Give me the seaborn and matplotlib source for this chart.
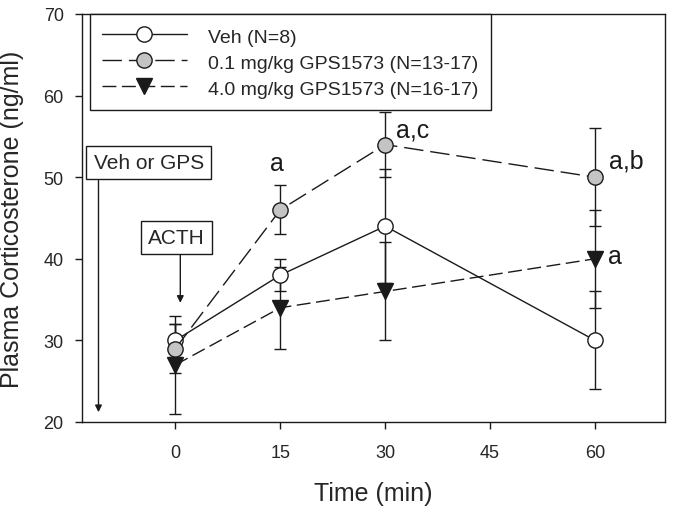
import pandas as pd
import matplotlib
matplotlib.use("Agg")
import matplotlib.pyplot as plt
from matplotlib.lines import Line2D
import seaborn as sns

# values
time_min = [0, 15, 30, 60]
veh_mean = [30, 38, 44, 30]
veh_err = [2, 2, 7, 6]
low_mean = [29, 46, 54, 50]
low_err = [3, 3, 4, 6]
high_mean = [27, 34, 36, 40]
high_err = [6, 5, 6, 6]

labels = ["Veh (N=8)", "0.1 mg/kg GPS1573 (N=13-17)", "4.0 mg/kg GPS1573 (N=16-17)"]
x_ticks = [0, 15, 30, 45, 60]
y_ticks = [20, 30, 40, 50, 60, 70]

# significance letters: (text, x, y, ha)
sig_marks = [("a", 14.5, 51.8, "center"),
             ("a,c", 31.6, 55.9, "left"),
             ("a,b", 62.0, 52.0, "left"),
             ("a", 61.8, 40.4, "left")]

sns.set_style("ticks")
plt.rcParams["font.family"] = ["Liberation Sans", "DejaVu Sans"]

INK = "#1a1a1a"
GRAY = "#c4c4c4"

series = [
    (veh_mean, veh_err, "o", "white", "-"),
    (low_mean, low_err, "o", GRAY, (0, (14, 5))),
    (high_mean, high_err, "v", INK, (0, (10, 4))),
]

fig = plt.figure(figsize=(6.73, 5.10), dpi=100)
ax = fig.add_axes([0.1214, 0.1706, 0.8666, 0.80])

handles = []
for (mean, err, mk, fc, ls), lab in zip(series, labels):
    df = pd.DataFrame({"time": time_min, "value": mean})
    ax.errorbar(df["time"], df["value"], yerr=err, fmt="none", ecolor=INK,
                elinewidth=1.0, capsize=4.5, capthick=1.0, zorder=2)
    sns.lineplot(data=df, x="time", y="value", ax=ax, color=INK, linestyle=ls,
                 linewidth=1.0, marker=mk, markersize=11,
                 markerfacecolor=fc, markeredgecolor=INK, markeredgewidth=1.0,
                 zorder=3)
    handles.append(Line2D([0], [0], color=INK, linestyle=ls, linewidth=1.0,
                          marker=mk, markersize=11, markerfacecolor=fc,
                          markeredgecolor=INK, markeredgewidth=1.0))

ax.set_xlim(-13.4, 70)
ax.set_ylim(20, 70)
ax.set_xticks(x_ticks)
ax.set_yticks(y_ticks)
ax.tick_params(labelsize=13, length=5, width=1.0, color=INK, direction="out")
ax.tick_params(axis="x", pad=11)
ax.tick_params(axis="y", pad=8)
ax.set_xlabel("Time (min)", fontsize=18, labelpad=14)
ax.set_ylabel("Plasma Corticosterone (ng/ml)", fontsize=18, labelpad=14)
for sp in ax.spines.values():
    sp.set_visible(True)
    sp.set_linewidth(1.0)
    sp.set_color(INK)

leg = ax.legend(handles, labels, loc="upper left", bbox_to_anchor=(0.014, 1.0),
                fontsize=14, handlelength=4.4, handletextpad=1.1,
                handleheight=1.15, labelspacing=0.3, borderpad=0.6,
                borderaxespad=0, frameon=True, fancybox=False, framealpha=1)
leg.get_frame().set_edgecolor(INK)
leg.get_frame().set_linewidth(1.0)

for txt, x, y, ha in sig_marks:
    ax.text(x, y, txt, fontsize=18, ha=ha, va="center", color=INK)

box = dict(boxstyle="square,pad=0.35", fc="white", ec=INK, lw=1.0)
ax.text(-3.8, 51.8, "Veh or GPS", fontsize=15, ha="center", va="center", bbox=box)
ax.text(0.14, 42.6, "ACTH", fontsize=15, ha="center", va="center", bbox=box)

arrow = dict(arrowstyle="-|>", color=INK, lw=1.0, mutation_scale=10,
             shrinkA=0, shrinkB=0)
ax.annotate("", xy=(-11, 21.2), xytext=(-11, 49.6), arrowprops=arrow)
ax.annotate("", xy=(0.7, 34.6), xytext=(0.7, 40.5), arrowprops=arrow)

fig.savefig("out.png", dpi=100)
